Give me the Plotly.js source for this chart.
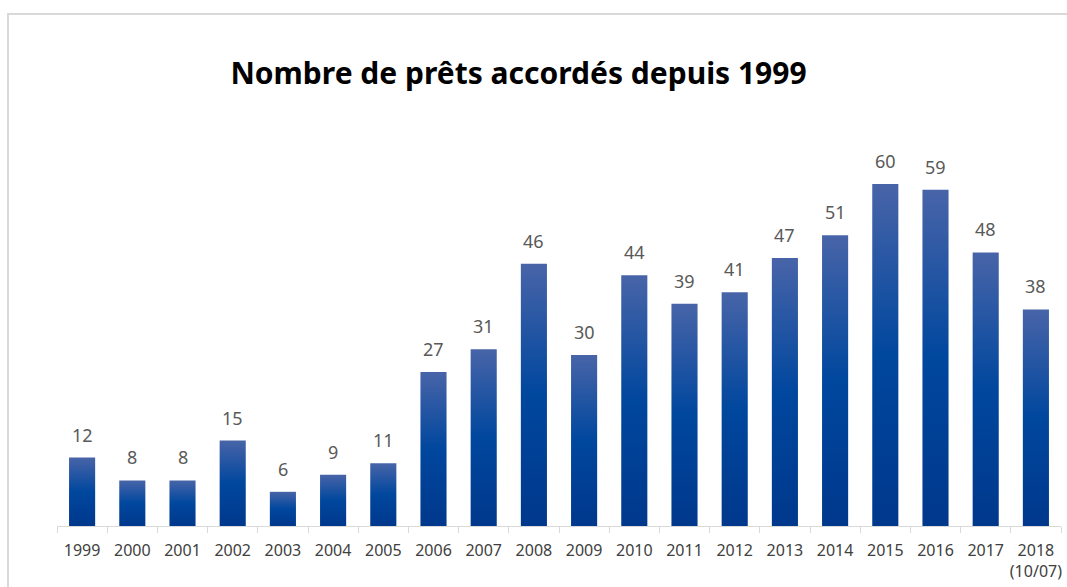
<!DOCTYPE html>
<html>
<head>
<meta charset="utf-8">
<script src="https://cdn.plot.ly/plotly-3.0.1.min.js"></script>
<style>
  html, body { margin: 0; padding: 0; background: #fff; }
  #wrap { position: relative; width: 1067px; height: 587px; }
  #plot { position: absolute; left: 0; top: 0; width: 1067px; height: 587px; }
  #frame { position: absolute; left: 7px; top: 13px; right: -2px; bottom: -2px;
           border-top: 2px solid #d9d9d9; border-left: 2px solid #d9d9d9; pointer-events: none; }
</style>
</head>
<body>
<div id="wrap">
  <div id="plot"></div>
  <div id="frame"></div>
</div>
<script>
const years = ["1999","2000","2001","2002","2003","2004","2005","2006","2007","2008",
               "2009","2010","2011","2012","2013","2014","2015","2016","2017","2018<br>(10/07)"];
const loans = [12, 8, 8, 15, 6, 9, 11, 27, 31, 46, 30, 44, 39, 41, 47, 51, 60, 59, 48, 38];
const chartTitle = "Nombre de prêts accordés depuis 1999";

const trace = {
  type: "bar",
  x: years,
  y: loans,
  marker: { color: "#0047a0", line: { width: 0 } },
  hoverinfo: "x+y"
};

// category index positions (annotations on a category axis take the index)
const labels = loans.map(function (v, i) {
  return {
    x: i, y: v, xref: "x", yref: "y",
    text: String(v), showarrow: false,
    yanchor: "bottom", yshift: 9,
    font: { family: "Noto Sans, sans-serif", size: 18, color: "#595959" }
  };
});

const layout = {
  width: 1067, height: 587,
  margin: { l: 57, r: 6, t: 127, b: 61 },
  paper_bgcolor: "rgba(0,0,0,0)",
  plot_bgcolor: "rgba(0,0,0,0)",
  bargap: 0.48,
  showlegend: false,
  annotations: labels,
  title: {
    text: "<b>" + chartTitle + "</b>",
    font: { family: "Noto Sans, sans-serif", size: 30, color: "#000" },
    x: 0.486, xanchor: "center", xref: "container",
    y: 1 - 73/587, yanchor: "middle", yref: "container"
  },
  xaxis: {
    type: "category",
    range: [-0.5, years.length - 0.5],
    showline: true, linecolor: "#d9d9d9", linewidth: 1,
    ticks: "outside", tickson: "boundaries", ticklen: 6, tickcolor: "#d9d9d9",
    tickangle: 0, ticklabelstandoff: 10,
    tickfont: { family: "Noto Sans, sans-serif", size: 16, color: "#404040" },
    showgrid: false, zeroline: false, fixedrange: true
  },
  yaxis: {
    range: [0, 70], visible: false, showgrid: false, zeroline: false, fixedrange: true
  }
};

Plotly.newPlot("plot", [trace], layout, { displayModeBar: false, staticPlot: true }).then(function () {
  const NS = "http://www.w3.org/2000/svg";
  const svg = document.querySelector("#plot .main-svg");
  let defs = svg.querySelector("defs");
  if (!defs) { defs = document.createElementNS(NS, "defs"); svg.insertBefore(defs, svg.firstChild); }
  const g = document.createElementNS(NS, "linearGradient");
  g.setAttribute("id", "barGrad");
  g.setAttribute("x1", "0"); g.setAttribute("y1", "0");
  g.setAttribute("x2", "0"); g.setAttribute("y2", "1");
  [["0%", "rgb(72,100,168)"], ["50%", "rgb(0,71,158)"], ["100%", "rgb(0,56,140)"]].forEach(function (s) {
    const st = document.createElementNS(NS, "stop");
    st.setAttribute("offset", s[0]);
    st.setAttribute("stop-color", s[1]);
    g.appendChild(st);
  });
  defs.appendChild(g);
  document.querySelectorAll("#plot .barlayer .point path").forEach(function (p) {
    p.style.fill = "url(#barGrad)";
  });
});
</script>
</body>
</html>
